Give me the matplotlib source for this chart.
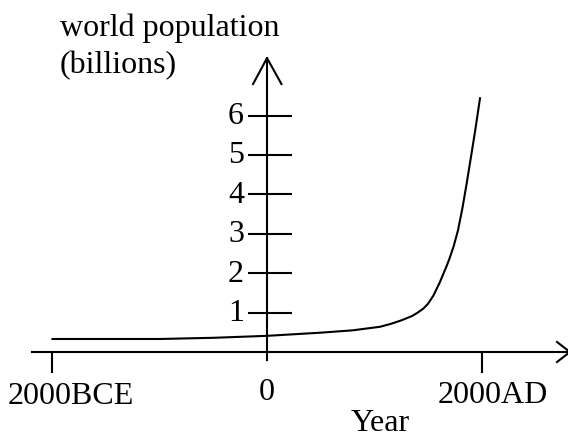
import matplotlib.pyplot as plt

# world population curve
years = [-2000, -1500, -1000, -500, 0, 500, 800, 1054, 1150, 1250, 1350, 1400, 1457, 1500,
         1551, 1610, 1676, 1700, 1740, 1780, 1820, 1860, 1900, 1940, 1986]
population = [0.33, 0.33, 0.33, 0.36, 0.41, 0.49, 0.55, 0.64, 0.71, 0.80, 0.91, 0.99, 1.10, 1.22,
              1.43, 1.76, 2.19, 2.36, 2.68, 3.08, 3.62, 4.25, 4.92, 5.60, 6.44]

y_ticks = [1, 2, 3, 4, 5, 6]
x_ticks = [-2000, 0, 2000]
x_tick_labels = ['2000BCE', '0', '2000AD']

plt.rcParams['font.family'] = ['Liberation Serif', 'DejaVu Serif']

fig = plt.figure(figsize=(5.68, 4.39), dpi=100)
ax = fig.add_axes([0, 0, 1, 1])
ax.set_xlim(-2489.5, 2806.5)
ax.set_ylim(-2.183, 8.959)
ax.axis('off')

lw = 1.5
# axes with arrow heads
ax.plot([-2191, 2825], [0, 0], color='black', lw=lw)
ax.plot([2704, 2825, 2704], [0.254, 0, -0.254], color='black', lw=lw)
ax.plot([0, 0], [-0.2, 7.46], color='black', lw=lw)
ax.plot([-130, 0, 135], [6.80, 7.46, 6.80], color='black', lw=lw)

# ticks on y axis (crossing it) and below x axis
ax.hlines(y_ticks, -177, 233, color='black', lw=lw)
ax.vlines([t for t in x_ticks if t != 0], -0.54, 0, color='black', lw=lw)

ax.plot(years, population, color='black', lw=lw, solid_joinstyle='round')

fs = 23
for v in y_ticks:
    ax.text(-214, v, str(v), ha='right', va='center', fontsize=fs)

offsets = [(13, -37), (0, -34), (8, -36)]
for t, lab, off in zip(x_ticks, x_tick_labels, offsets):
    ax.annotate(lab, (t, 0), xytext=off, textcoords='offset points',
                ha='center', va='baseline', fontsize=fs)

ax.text(-1930, 8.05, 'world population', ha='left', va='baseline', fontsize=fs)
ax.text(-1930, 7.11, '(billions)', ha='left', va='baseline', fontsize=fs)
ax.text(1054, -1.98, 'Year', ha='center', va='baseline', fontsize=fs)

fig.savefig('out.png', dpi=100)
